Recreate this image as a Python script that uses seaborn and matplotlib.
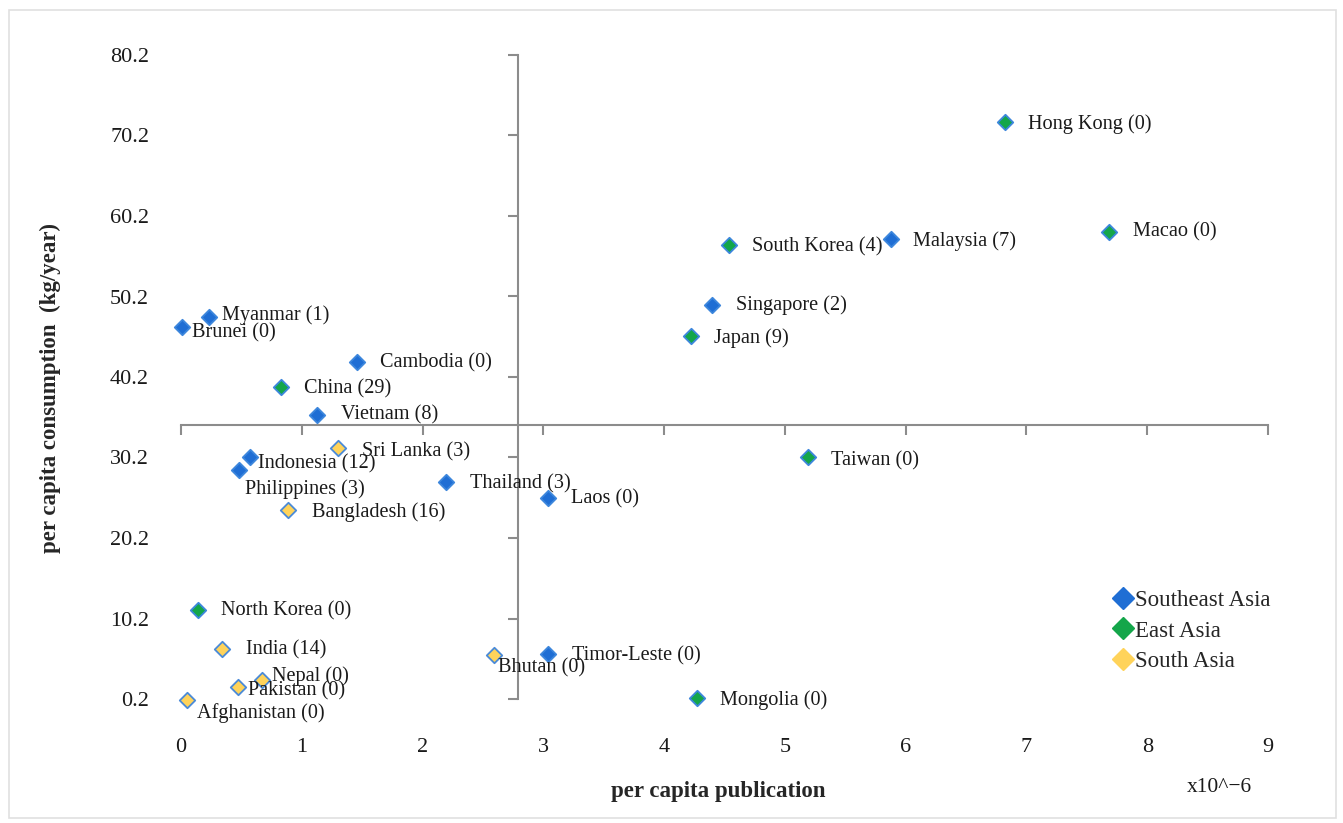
import matplotlib
matplotlib.use("Agg")
import matplotlib.pyplot as plt
import pandas as pd
import seaborn as sns
from matplotlib.lines import Line2D
from matplotlib.patches import Rectangle

# data (x in 10^-6, y in kg/year)
countries = ['Brunei', 'Myanmar', 'Cambodia', 'Vietnam', 'Indonesia', 'Philippines',
             'Thailand', 'Laos', 'Timor-Leste', 'Singapore', 'Malaysia',
             'Hong Kong', 'Macao', 'South Korea', 'Japan', 'Taiwan', 'China',
             'North Korea', 'Mongolia',
             'Sri Lanka', 'Bangladesh', 'India', 'Nepal', 'Pakistan', 'Afghanistan', 'Bhutan']
counts = [0, 1, 0, 8, 12, 3, 3, 0, 0, 2, 7,
          0, 0, 4, 9, 0, 29, 0, 0,
          3, 16, 14, 0, 0, 0, 0]
regions = ['Southeast Asia'] * 11 + ['East Asia'] * 8 + ['South Asia'] * 7
publication = [0.01, 0.23, 1.46, 1.13, 0.57, 0.48, 2.19, 3.04, 3.04, 4.40, 5.88,
               6.82, 7.68, 4.54, 4.22, 5.19, 0.83, 0.14, 4.27,
               1.30, 0.89, 0.34, 0.67, 0.47, 0.05, 2.59]
consumption = [46.4, 47.7, 42.1, 35.5, 30.3, 28.7, 27.2, 25.2, 5.8, 49.1, 57.3,
               71.9, 58.2, 56.6, 45.3, 30.2, 38.9, 11.3, 0.35,
               31.4, 23.7, 6.4, 2.6, 1.7, 0.1, 5.7]
# label offsets in pixels
label_dx = [10, 13, 23, 24, 8, 6, 24, 23, 24, 24, 22,
            23, 24, 23, 23, 23, 23, 23, 23,
            24, 24, 24, 10, 10, 10, 4]
label_dy = [-6, 1, -1, 0, -7, -20, -2, -1, -2, 0, -2,
            -2, 0, -2, -2, -3, -1, -1, -2,
            -4, -2, -1, 4, -4, -13, -13]

x_ticks = [0, 1, 2, 3, 4, 5, 6, 7, 8, 9]
y_ticks = [0.2, 10.2, 20.2, 30.2, 40.2, 50.2, 60.2, 70.2, 80.2]
cross_x = 2.79
cross_y = 34.24

region_order = ['Southeast Asia', 'East Asia', 'South Asia']
face_colors = {'Southeast Asia': '#1F6ED4', 'East Asia': '#14A64A', 'South Asia': '#FFD35A'}
edge_colors = {'Southeast Asia': '#3C86DC', 'East Asia': '#3C86DC', 'South Asia': '#4A8AD8'}

df = pd.DataFrame({'country': countries, 'count': counts, 'region': regions,
                   'publication': publication, 'consumption': consumption,
                   'dx': label_dx, 'dy': label_dy})

sns.set_style('white')
plt.rcParams['font.family'] = ['Liberation Serif', 'DejaVu Serif']

fig = plt.figure(figsize=(13.43, 8.23), dpi=100)
ax = fig.add_axes([181 / 1343, 124 / 823, 1087 / 1343, 644 / 823])

for r in region_order:
    sub = df[df['region'] == r]
    sns.scatterplot(data=sub, x='publication', y='consumption', marker='D', s=62,
                    color=face_colors[r], edgecolor=edge_colors[r], linewidth=1.3,
                    ax=ax, clip_on=False, zorder=3, legend=False)

for _, row in df.iterrows():
    ax.annotate('{} ({})'.format(row['country'], row['count']),
                (row['publication'], row['consumption']),
                xytext=(row['dx'], row['dy']), textcoords='offset pixels',
                ha='left', va='center', fontsize=14.6, color='#1a1a1a', zorder=4,
                annotation_clip=False)

ax.set_xlim(0, 9)
ax.set_ylim(0.2, 80.2)

# crossing axes with tick marks
for name in ['top', 'right']:
    ax.spines[name].set_visible(False)
ax.spines['left'].set_position(('data', cross_x))
ax.spines['bottom'].set_position(('data', cross_y))
for name in ['left', 'bottom']:
    ax.spines[name].set_color('#8c8c8c')
    ax.spines[name].set_linewidth(1.5)
ax.set_xticks(x_ticks)
ax.set_yticks(y_ticks)
ax.tick_params(axis='both', direction='out', length=7, width=1.5, color='#8c8c8c',
               labelbottom=False, labelleft=False, bottom=True, left=True)
ax.set_xlabel('')
ax.set_ylabel('')

# tick labels at the outer edges
sx = ax.secondary_xaxis('bottom')
sx.set_xticks(x_ticks)
sx.set_xticklabels([str(v) for v in x_ticks])
sx.spines['bottom'].set_visible(False)
sx.tick_params(length=0, pad=28, labelsize=16, labelcolor='#1a1a1a')
sx.set_xlabel('per capita publication', fontsize=16.5, fontweight='bold')
sx.xaxis.set_label_coords(718 / 1343, 1 - 791 / 823, transform=fig.transFigure)
sx.xaxis.label.set_va('center')

sy = ax.secondary_yaxis('left')
sy.set_yticks(y_ticks)
sy.set_yticklabels([str(v) for v in y_ticks])
sy.spines['left'].set_visible(False)
sy.tick_params(length=0, pad=23, labelsize=16, labelcolor='#1a1a1a')
sy.set_ylabel('per capita consumption  (kg/year)', fontsize=16.5, fontweight='bold')
sy.yaxis.set_label_coords(50 / 1343, 1 - 388 / 823, transform=fig.transFigure)
sy.yaxis.label.set_ha('center')
sy.yaxis.label.set_va('center')

fig.text(1219 / 1343, 1 - 787 / 823, 'x10^\u22126', ha='center', va='center',
         fontsize=15.5, color='#1a1a1a')

handles = [Line2D([], [], marker='D', linestyle='', markersize=11,
                  markerfacecolor=face_colors[r], markeredgecolor=face_colors[r])
           for r in region_order]
ax.legend(handles, region_order, loc='center left',
          bbox_to_anchor=(1102 / 1343, 1 - 631 / 823), bbox_transform=fig.transFigure,
          frameon=False, fontsize=16.5, handletextpad=0.05, handlelength=1.0,
          labelspacing=0.4, borderaxespad=0)

fig.add_artist(Rectangle((9 / 1343, 5 / 823), 1327 / 1343, 808 / 823,
                         transform=fig.transFigure, fill=False,
                         edgecolor='#e0e0e0', linewidth=1.2))

fig.savefig('out.png', dpi=100)
